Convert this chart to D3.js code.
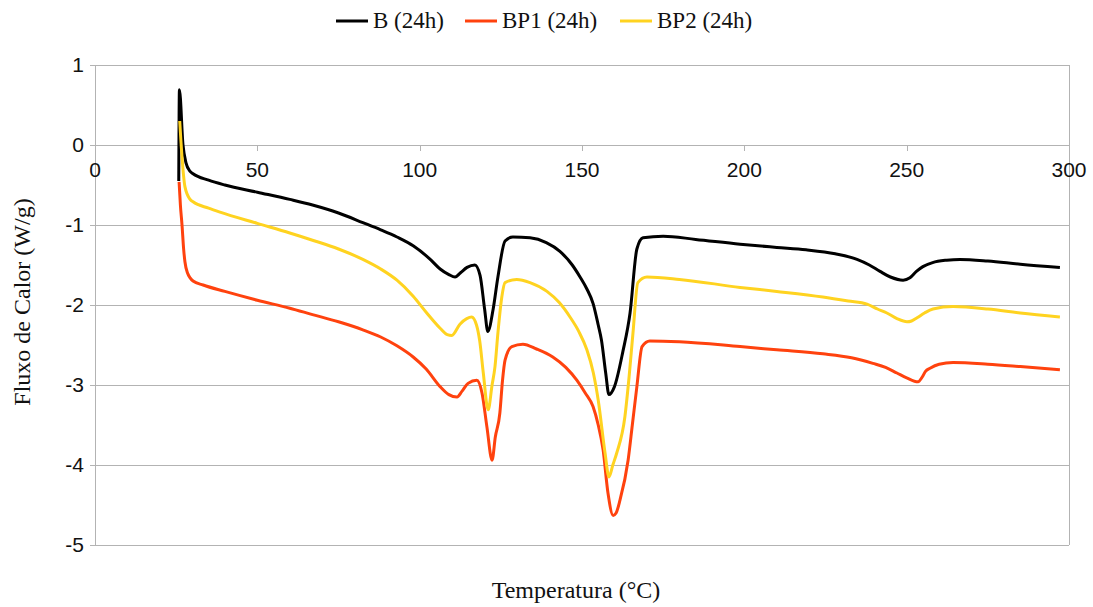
<!DOCTYPE html>
<html>
<head>
<meta charset="utf-8">
<script src="https://cdn.jsdelivr.net/npm/d3@7"></script>
<style>
  body { margin: 0; background: #fff; }
  .serif { font-family: "Liberation Serif", "DejaVu Serif", serif; }
  .sans { font-family: "Liberation Sans", Arial, sans-serif; }
</style>
</head>
<body>
<div id="chart"></div>
<script>
// Series: temperature (°C) and heat flow (W/g)
var seriesNames = ["B (24h)", "BP1 (24h)", "BP2 (24h)"];
var seriesColors = ["#000000", "#ff420e", "#ffd320"];

var bT = [25.8, 26.0, 27.1, 28.0, 29.3, 30.2, 35, 40, 50, 60, 67, 75, 82.5, 88, 93, 98, 103, 106.3, 109, 110.9,
  112.5, 114.6, 117, 118.6, 120, 121, 122.6, 124.1, 126.3, 128.7, 134, 139, 143.2, 147, 149.4, 151.5, 153.4, 155,
  156, 157.3, 158.3, 160, 162.6, 164.8, 166.9, 168.8, 175, 185, 198.7, 210, 219, 228, 234.7, 238.5, 241.8, 245,
  248.9, 251, 253, 255, 258, 262.3, 266.4, 275, 285, 297.2];
var bV = [-0.45, 0.69, 0.0, -0.22, -0.33, -0.36, -0.44, -0.5, -0.59, -0.68, -0.75, -0.85, -0.97, -1.06, -1.15, -1.26, -1.42, -1.55, -1.62, -1.65,
  -1.6, -1.53, -1.5, -1.63, -2.05, -2.33, -2.06, -1.65, -1.2, -1.15, -1.16, -1.22, -1.33, -1.5, -1.65, -1.8, -1.98, -2.25,
  -2.44, -2.85, -3.12, -3.02, -2.58, -2.1, -1.3, -1.16, -1.14, -1.18, -1.24, -1.28, -1.31, -1.36, -1.43, -1.5, -1.58, -1.65,
  -1.69, -1.66, -1.58, -1.52, -1.47, -1.44, -1.43, -1.45, -1.49, -1.53];

var bp1T = [25.9, 26.3, 26.8, 27.3, 27.7, 28.5, 29.3, 30.2, 33.3, 40, 50, 60, 67, 75, 82.5, 88, 93, 98, 102, 106.3,
  109, 111.5, 113, 114.9, 117.6, 119.2, 120.7, 122.3, 123.3, 124.7, 125.5, 126.3, 128.4, 131.8, 136, 141, 145, 148.4,
  151, 153.4, 155, 156.5, 158, 159.6, 160.5, 161.7, 164.2, 165.5, 166.9, 168.5, 170.9, 180, 198.7, 210, 224.2, 233,
  239.6, 243.5, 247, 250, 253.5, 254.8, 255.8, 257.2, 260, 264.3, 275, 285, 297.2];
var bp1V = [-0.46, -0.75, -1.0, -1.3, -1.46, -1.6, -1.66, -1.7, -1.75, -1.83, -1.94, -2.04, -2.12, -2.21, -2.31, -2.4, -2.51, -2.65, -2.8, -3.02,
  -3.12, -3.15, -3.08, -2.98, -2.94, -3.1, -3.52, -3.94, -3.65, -3.35, -2.95, -2.69, -2.52, -2.49, -2.55, -2.65, -2.78, -2.94,
  -3.1, -3.27, -3.5, -3.81, -4.35, -4.63, -4.6, -4.44, -3.94, -3.5, -3.02, -2.52, -2.45, -2.46, -2.52, -2.56, -2.61, -2.66,
  -2.73, -2.78, -2.85, -2.91, -2.96, -2.9, -2.83, -2.79, -2.74, -2.72, -2.74, -2.77, -2.81];

var bp2T = [26.1, 26.8, 27.7, 29.3, 30.2, 35, 38.5, 50, 60, 67, 75, 82.5, 88, 93, 98, 102, 106.3, 108.5, 109.9, 112.4,
  114.5, 116, 117.5, 118.5, 119.6, 121.1, 122.3, 123.2, 124.1, 125.3, 126.3, 129.9, 134, 139.2, 143, 146.3, 149, 151.5,
  153.5, 155, 157.1, 158.3, 159.5, 160.7, 163.2, 164.5, 165.7, 167.2, 170, 180, 198.7, 210, 224.2, 232, 237.8, 241,
  243.9, 247, 250.1, 251.5, 253.2, 255.5, 258.1, 264.3, 275, 285, 297.2];
var bp2V = [0.3, -0.15, -0.52, -0.68, -0.71, -0.79, -0.84, -0.98, -1.1, -1.19, -1.3, -1.43, -1.55, -1.69, -1.89, -2.09, -2.29, -2.37, -2.38, -2.24,
  -2.17, -2.15, -2.25, -2.45, -2.85, -3.31, -3.0, -2.77, -2.35, -1.9, -1.72, -1.68, -1.72, -1.83, -1.97, -2.15, -2.33, -2.56,
  -2.85, -3.19, -3.85, -4.15, -4.0, -3.85, -3.4, -2.9, -2.35, -1.72, -1.65, -1.68, -1.78, -1.83, -1.9, -1.95, -1.99, -2.05,
  -2.1, -2.17, -2.21, -2.2, -2.16, -2.1, -2.05, -2.02, -2.05, -2.1, -2.15];

var xTicks = [0, 50, 100, 150, 200, 250, 300];
var yTicks = [1, 0, -1, -2, -3, -4, -5];

var W = 1093, H = 607;
var plotLeft = 95, plotRight = 1069, plotTop = 65, plotBottom = 545;

var svg = d3.select("#chart").append("svg")
    .attr("width", W)
    .attr("height", H);

var x = d3.scaleLinear().domain([0, 300]).range([plotLeft, plotRight]);
var y = d3.scaleLinear().domain([-5, 1]).range([plotBottom, plotTop]);

// Grid
svg.append("g").selectAll("line")
    .data(yTicks)
    .enter().append("line")
    .attr("x1", plotLeft - 5).attr("x2", plotRight)
    .attr("y1", function (d) { return Math.round(y(d)) + 0.5; })
    .attr("y2", function (d) { return Math.round(y(d)) + 0.5; })
    .style("stroke", "#b3b3b3");

// right border and y axis
svg.append("line")
    .attr("x1", plotRight + 0.5).attr("x2", plotRight + 0.5)
    .attr("y1", plotTop).attr("y2", plotBottom)
    .style("stroke", "#b3b3b3");
svg.append("line")
    .attr("x1", plotLeft + 0.5).attr("x2", plotLeft + 0.5)
    .attr("y1", plotTop).attr("y2", plotBottom)
    .style("stroke", "#b3b3b3");

// x ticks at the zero line
svg.append("g").selectAll("line")
    .data(xTicks)
    .enter().append("line")
    .attr("x1", function (d) { return Math.round(x(d)) + 0.5; })
    .attr("x2", function (d) { return Math.round(x(d)) + 0.5; })
    .attr("y1", y(0)).attr("y2", y(0) + 6)
    .style("stroke", "#b3b3b3");

svg.append("g").selectAll("text")
    .data(xTicks)
    .enter().append("text")
    .attr("class", "sans")
    .attr("x", function (d) { return x(d); })
    .attr("y", y(0) + 32)
    .attr("text-anchor", "middle")
    .style("font-size", "21px")
    .style("fill", "#111")
    .text(function (d) { return d; });

svg.append("g").selectAll("text")
    .data(yTicks)
    .enter().append("text")
    .attr("class", "sans")
    .attr("x", plotLeft - 11)
    .attr("y", function (d) { return y(d) + 7; })
    .attr("text-anchor", "end")
    .style("font-size", "21px")
    .style("fill", "#111")
    .text(function (d) { return d; });

// Lines
var line = d3.line()
    .x(function (d) { return x(d[0]); })
    .y(function (d) { return y(d[1]); })
    .curve(d3.curveMonotoneX);

var series = [
    d3.zip(bT, bV),
    d3.zip(bp1T, bp1V),
    d3.zip(bp2T, bp2V)
];

series.forEach(function (s, i) {
    svg.append("path")
        .datum(s)
        .attr("d", line)
        .style("fill", "none")
        .style("stroke", seriesColors[i])
        .style("stroke-width", 3)
        .style("stroke-linejoin", "round");
});

// Legend
var legendX = [336, 465, 620];
seriesNames.forEach(function (name, i) {
    svg.append("line")
        .attr("x1", legendX[i]).attr("x2", legendX[i] + 32)
        .attr("y1", 21).attr("y2", 21)
        .style("stroke", seriesColors[i])
        .style("stroke-width", 3);
    svg.append("text")
        .attr("class", "serif")
        .attr("x", legendX[i] + 37)
        .attr("y", 28)
        .style("font-size", "23px")
        .style("fill", "#111")
        .text(name);
});

// Axis titles
svg.append("text")
    .attr("class", "serif")
    .attr("x", 576)
    .attr("y", 598)
    .attr("text-anchor", "middle")
    .style("font-size", "24px")
    .style("fill", "#111")
    .text("Temperatura (°C)");

svg.append("text")
    .attr("class", "serif")
    .attr("transform", "translate(30,302) rotate(-90)")
    .attr("text-anchor", "middle")
    .style("font-size", "24px")
    .style("fill", "#111")
    .text("Fluxo de Calor (W/g)");
</script>
</body>
</html>
